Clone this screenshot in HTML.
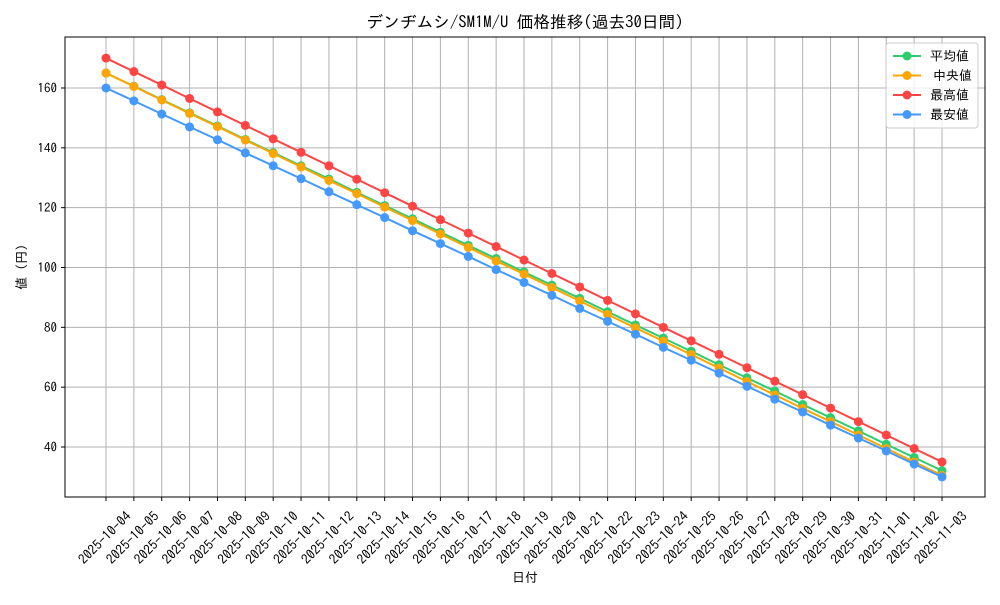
<!DOCTYPE html>
<html><head><meta charset="utf-8"><style>
body{margin:0;background:#fff;}
svg text{font-family:"IPAGothic","Noto Sans CJK JP",sans-serif;fill:#000;}
</style></head><body>
<svg id="chart" width="1000" height="600" xmlns="http://www.w3.org/2000/svg">
<rect width="1000" height="600" fill="#fff"/>
<text x="525" y="28" font-size="16.7" text-anchor="middle">デンヂムシ/SM1M/U 価格推移(過去30日間)</text>
<g id="grid"></g>
<g id="series"></g>
<rect x="65" y="37" width="920" height="460" fill="none" stroke="#000" stroke-width="1"/>
<g id="axes"></g>
<text x="525" y="582" font-size="13" text-anchor="middle">日付</text>
<text transform="translate(26,267) rotate(-90)" font-size="13" text-anchor="middle">値 (円)</text>
<g>
<rect x="886" y="43" width="92" height="85" fill="#fff" fill-opacity="0.8" stroke="#ccc" rx="3"/>
<g id="legend-items"></g>
</g>
</svg>
<script>
const dates=["2025-10-04","2025-10-05","2025-10-06","2025-10-07","2025-10-08","2025-10-09","2025-10-10","2025-10-11","2025-10-12","2025-10-13","2025-10-14","2025-10-15","2025-10-16","2025-10-17","2025-10-18","2025-10-19","2025-10-20","2025-10-21","2025-10-22","2025-10-23","2025-10-24","2025-10-25","2025-10-26","2025-10-27","2025-10-28","2025-10-29","2025-10-30","2025-10-31","2025-11-01","2025-11-02","2025-11-03"];
const avgValues=[165,160.6,156.1,151.7,147.3,142.8,138.4,134,129.6,125.1,120.7,116.3,111.8,107.4,103,98.5,94.1,89.7,85.2,80.8,76.4,72,67.5,63.1,58.7,54.2,49.8,45.4,40.9,36.5,32.1];
const medianValues=[165,160.5,156,151.5,147.1,142.6,138.1,133.6,129.1,124.7,120.2,115.7,111.2,106.7,102.2,97.8,93.3,88.8,84.3,79.8,75.4,70.9,66.4,61.9,57.4,52.9,48.5,44,39.5,35,30.5];
const maxValues=[170,165.5,161,156.5,152,147.5,143,138.5,134,129.5,125,120.5,116,111.5,107,102.5,98,93.5,89,84.5,80,75.5,71,66.5,62,57.5,53,48.5,44,39.5,35];
const minValues=[160,155.7,151.3,147,142.7,138.3,134,129.7,125.3,121,116.7,112.3,108,103.7,99.3,95,90.7,86.3,82,77.7,73.3,69,64.7,60.3,56,51.7,47.3,43,38.7,34.3,30];
const yTicks=[40,60,80,100,120,140,160];
const seriesNames=["平均値","中央値","最高値","最安値"];

const NS="http://www.w3.org/2000/svg";
function X(i){return 106+i*(942-106)/(dates.length-1);}
function Y(v){return 88+(160-v)*(447-88)/120;}
function mk(tag,attrs,parent){const e=document.createElementNS(NS,tag);for(const k in attrs)e.setAttribute(k,attrs[k]);parent.appendChild(e);return e;}
const grid=document.getElementById('grid'),axes=document.getElementById('axes'),ser=document.getElementById('series'),leg=document.getElementById('legend-items');
yTicks.forEach(t=>{
  const l=mk('line',{x1:65,x2:985,y1:Y(t),y2:Y(t),stroke:'#b0b0b0','stroke-width':1},grid);
  
  
  mk('line',{x1:61,x2:65,y1:Y(t),y2:Y(t),stroke:'#000'},axes);
  const tx=mk('text',{x:57,y:Y(t)+4.5,'font-size':13,'text-anchor':'end'},axes);
  tx.textContent=t;
  
  
});
dates.forEach((d,i)=>{
  const l=mk('line',{x1:X(i),x2:X(i),y1:37,y2:497,stroke:'#b0b0b0','stroke-width':1},grid);
  
  
  mk('line',{x1:X(i),x2:X(i),y1:497,y2:501,stroke:'#000'},axes);
  const tx=mk('text',{transform:`translate(${X(i)+2},541) rotate(-45)`,'font-size':13.5,'text-anchor':'middle'},axes);
  tx.textContent=d;
  
  
});
const series=[[avgValues,'#2ecc71','avg'],[medianValues,'#ffa500','median'],[maxValues,'#ff4444','max'],[minValues,'#4499ff','min']];
series.forEach(([vals,col,key])=>{
  const g=mk('g',{},ser);
  
  
  mk('polyline',{points:vals.map((v,i)=>X(i)+','+Y(v)).join(' '),fill:'none',stroke:col,'stroke-width':2},g);
  vals.forEach((v,i)=>{
    const c=mk('circle',{cx:X(i),cy:Y(v),r:4.5,fill:col},g);
    
    
  });
});
series.forEach(([vals,col,key],k)=>{
  const y=56+k*19.5;
  const g=mk('g',{},leg);
  
  
  mk('line',{x1:893,x2:921,y1:y,y2:y,stroke:col,'stroke-width':2},g);
  mk('circle',{cx:907,cy:y,r:4.5,fill:col},g);
  const t=mk('text',{x:(k==1?933:930),y:y+4.5,'font-size':13},g);
  t.textContent=seriesNames[k];
});
</script>
</body></html>
